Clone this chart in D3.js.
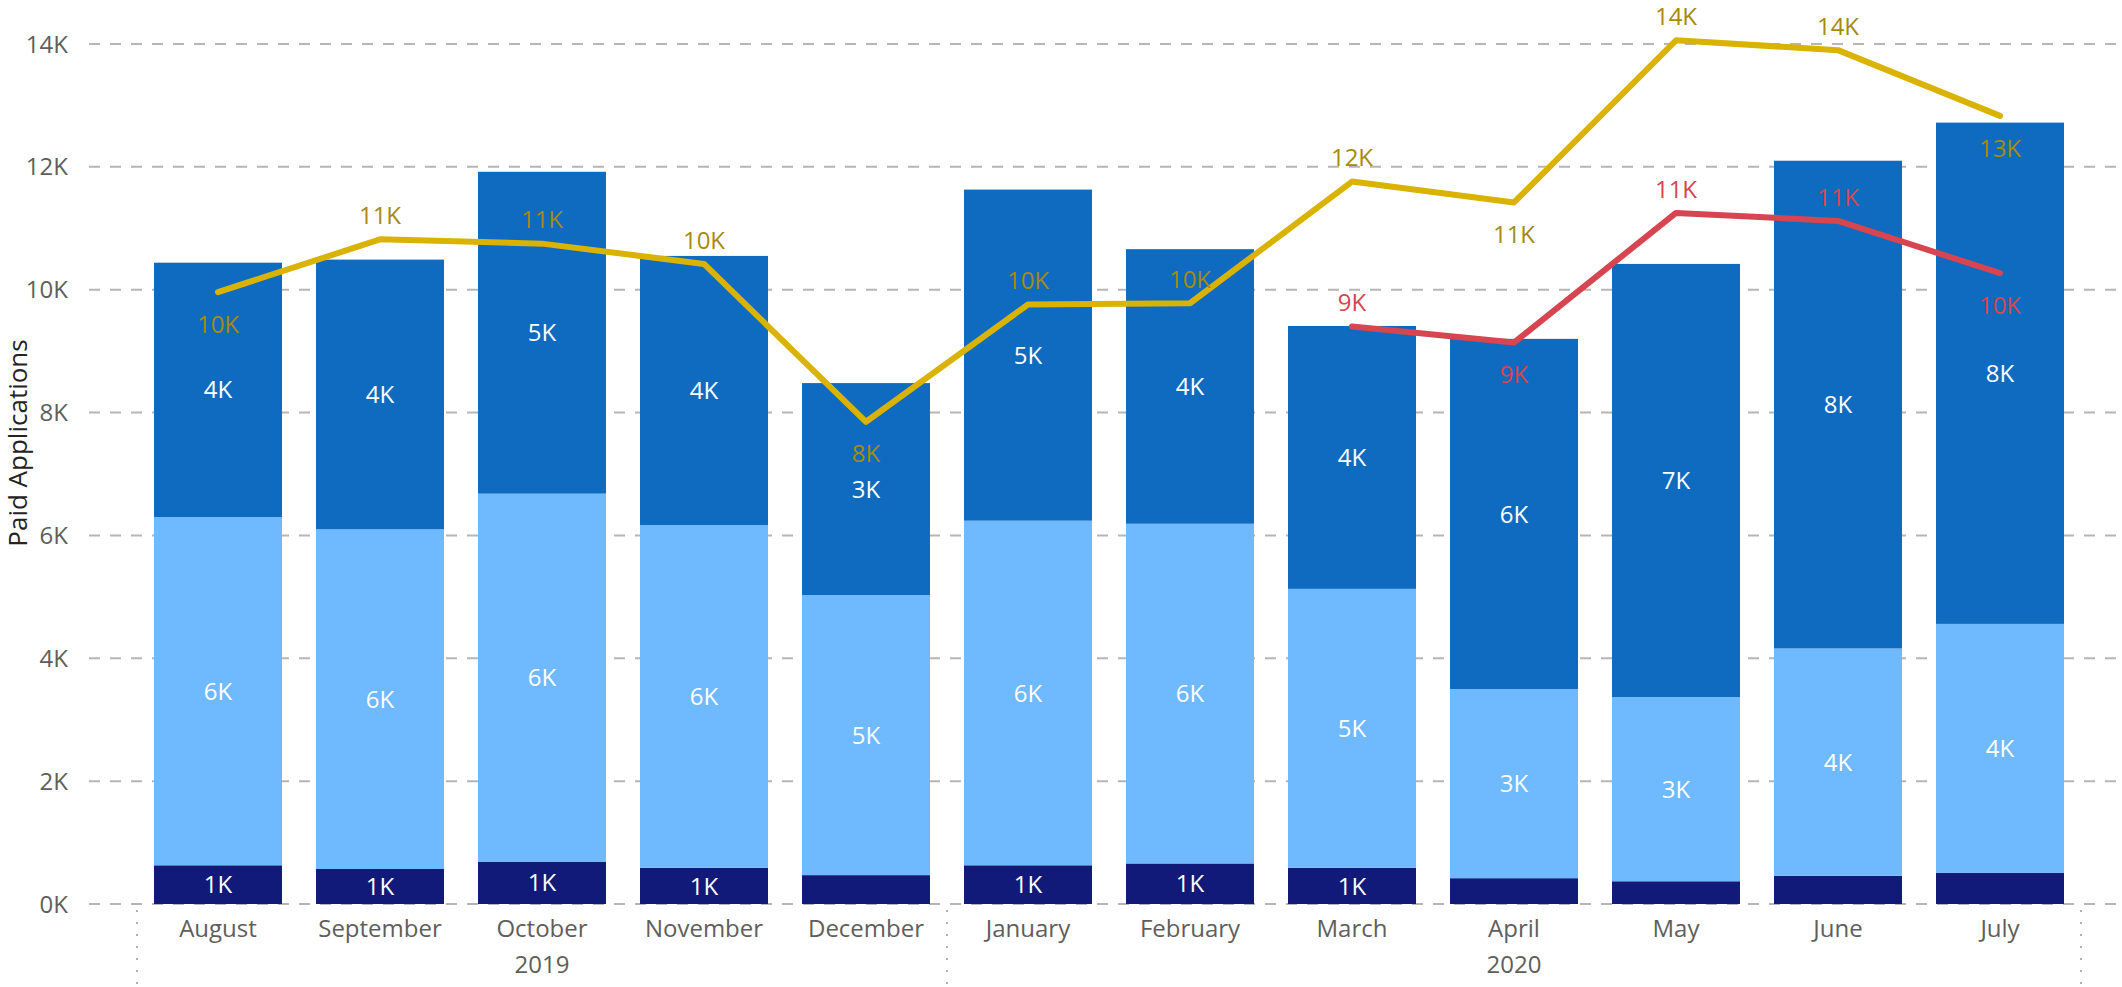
<!DOCTYPE html>
<head>
  <meta charset="utf-8">
  <script src="https://d3js.org/d3.v7.min.js"></script>
  <style>
    body { margin: 0; background: white; }
    svg { display: block; font-family: 'Open Sans', sans-serif; }
    .tick-label { fill: #605E5C; font-size: 24px; }
    .grid { stroke: #B8B5B2; stroke-width: 2; stroke-dasharray: 11 10; }
    .sep { stroke: #B3B0AD; stroke-width: 2; stroke-dasharray: 2 10; }
  </style>
</head>

<body>
  <svg width="2122" height="987"></svg>

  <script>
    // months (Aug 2019 .. Jul 2020)
    const months = ['August', 'September', 'October', 'November', 'December',
      'January', 'February', 'March', 'April', 'May', 'June', 'July'];
    const years = [
      { label: '2019', from: 'August', to: 'December' },
      { label: '2020', from: 'January', to: 'July' }
    ];
    const yTicks = [0, 2000, 4000, 6000, 8000, 10000, 12000, 14000];

    // stacked bar series, bottom to top
    const seriesNavy  = [630, 570, 690, 590, 470, 630, 660, 590, 420, 370, 460, 510];
    const seriesLight = [5670, 5530, 5990, 5580, 4560, 5610, 5530, 4540, 3080, 3000, 3700, 4050];
    const seriesDark  = [4140, 4390, 5240, 4380, 3450, 5390, 4470, 4280, 5700, 7050, 7940, 8160];

    // line series
    const lineGold = [9960, 10820, 10750, 10420, 7850, 9760, 9780, 11760, 11420, 14060, 13900, 12830];
    const lineRed  = [null, null, null, null, null, null, null, 9400, 9140, 11250, 11120, 10270];

    const svg = d3.select('svg');
    const W = +svg.attr('width');

    const x = d3.scaleBand()
      .domain(months)
      .range([137, 2081])
      .paddingInner(0.21)
      .paddingOuter(0.105);
    const y = d3.scaleLinear()
      .domain([0, 14000])
      .range([904, 44]);

    const fmt = v => Math.round(v / 1000) + 'K';

    // grid + y labels
    const gy = svg.append('g');
    gy.selectAll('line').data(yTicks).enter().append('line')
      .attr('class', 'grid')
      .attr('x1', 89).attr('x2', W)
      .attr('y1', d => y(d)).attr('y2', d => y(d));
    gy.selectAll('text').data(yTicks).enter().append('text')
      .attr('class', 'tick-label')
      .attr('x', 68).attr('y', d => y(d))
      .attr('dy', '0.36em')
      .attr('text-anchor', 'end')
      .text(fmt);

    svg.append('text')
      .attr('transform', `translate(27,443) rotate(-90)`)
      .attr('text-anchor', 'middle')
      .attr('fill', '#252423')
      .style('font-size', '26px')
      .text('Paid Applications');

    // stacked bars
    const rows = months.map((m, i) => ({
      month: m, navy: seriesNavy[i], light: seriesLight[i], dark: seriesDark[i]
    }));
    const keys = ['navy', 'light', 'dark'];
    const colors = { navy: '#111A78', light: '#6FB9FE', dark: '#0F6BBF' };
    const stacked = d3.stack().keys(keys)(rows);

    const layers = svg.append('g').selectAll('g').data(stacked).enter().append('g')
      .attr('fill', s => colors[s.key]);
    layers.selectAll('rect').data(s => s).enter().append('rect')
      .attr('x', d => x(d.data.month))
      .attr('width', x.bandwidth())
      .attr('y', d => y(d[1]))
      .attr('height', d => y(d[0]) - y(d[1]));
    layers.selectAll('text').data(s => s.filter(d => y(d[0]) - y(d[1]) > 33)).enter().append('text')
      .attr('x', d => x(d.data.month) + x.bandwidth() / 2)
      .attr('y', d => (y(d[0]) + y(d[1])) / 2)
      .attr('dy', '0.36em')
      .attr('text-anchor', 'middle')
      .attr('fill', 'white')
      .style('font-size', '24px')
      .text(d => fmt(d[1] - d[0]));

    // lines
    const cx = m => x(m) + x.bandwidth() / 2;
    const drawLine = (values, stroke, labelColor) => {
      const pts = values.map((v, i) => ({ m: months[i], v, i })).filter(p => p.v !== null);
      svg.append('path')
        .datum(pts)
        .attr('fill', 'none')
        .attr('stroke', stroke)
        .attr('stroke-width', 6)
        .attr('stroke-linejoin', 'round')
        .attr('stroke-linecap', 'round')
        .attr('d', d3.line().x(p => cx(p.m)).y(p => y(p.v)));

      // label goes under a point that sits below its neighbours
      const isLow = (p, k) => {
        const prev = pts[k - 1], next = pts[k + 1];
        return (!prev || prev.v > p.v) && (!next || next.v > p.v);
      };
      svg.append('g').selectAll('text').data(pts).enter().append('text')
        .attr('x', p => cx(p.m))
        .attr('y', (p, k) => y(p.v) + (isLow(p, k) ? 32 : -24))
        .attr('dy', '0.36em')
        .attr('text-anchor', 'middle')
        .attr('fill', labelColor)
        .style('font-size', '24px')
        .text(p => fmt(p.v));
    };
    drawLine(lineGold, '#D9B300', '#A68A0A');
    drawLine(lineRed, '#D64550', '#D64550');

    // x labels
    svg.append('g').selectAll('text').data(months).enter().append('text')
      .attr('class', 'tick-label')
      .attr('x', cx)
      .attr('y', 937)
      .attr('text-anchor', 'middle')
      .text(d => d);

    // year groups
    const step = x.step();
    const edges = [x(years[0].from) - x.paddingInner() * step / 2];
    years.forEach(yr => edges.push(x(yr.to) + x.bandwidth() + x.paddingInner() * step / 2));
    svg.append('g').selectAll('line').data(edges).enter().append('line')
      .attr('class', 'sep')
      .attr('x1', d => d).attr('x2', d => d)
      .attr('y1', 910).attr('y2', 987);
    svg.append('g').selectAll('text').data(years).enter().append('text')
      .attr('class', 'tick-label')
      .attr('x', (yr, i) => (edges[i] + edges[i + 1]) / 2)
      .attr('y', 973)
      .attr('text-anchor', 'middle')
      .text(yr => yr.label);
  </script>
</body>
